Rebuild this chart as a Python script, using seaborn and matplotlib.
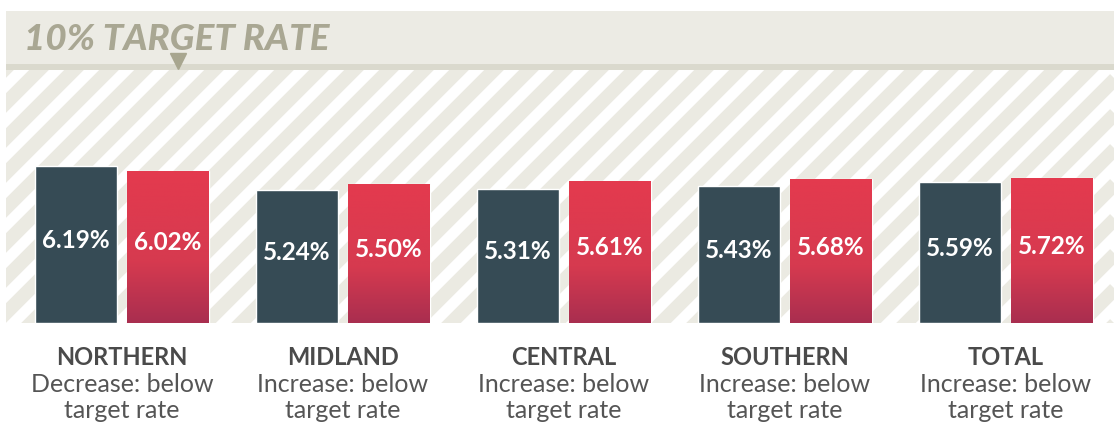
import matplotlib
matplotlib.use("Agg")
import matplotlib.pyplot as plt
import matplotlib.transforms as mtransforms
from matplotlib.colors import LinearSegmentedColormap
from matplotlib.patches import Rectangle
import numpy as np
import pandas as pd
import seaborn as sns

# Chart data
regions = ["NORTHERN", "MIDLAND", "CENTRAL", "SOUTHERN", "TOTAL"]
note_line1 = ["Decrease: below", "Increase: below", "Increase: below",
              "Increase: below", "Increase: below"]
note_line2 = ["target rate"] * 5
prior_rate = [6.19, 5.24, 5.31, 5.43, 5.59]
current_rate = [6.02, 5.50, 5.61, 5.68, 5.72]
target_rate = 10
target_label = "10% TARGET RATE"

df = pd.DataFrame({
    "region": regions * 2,
    "period": ["prior"] * len(regions) + ["current"] * len(regions),
    "rate": prior_rate + current_rate,
})

sns.set_theme(style="white")
plt.rcParams["font.family"] = ["Lato", "DejaVu Sans"]

W, H = 1114, 427
fig = plt.figure(figsize=(W / 100, H / 100), dpi=100)
ax_left, ax_bottom, ax_w, ax_h = 6, 103, 1108, 312
ax = fig.add_axes([ax_left / W, ax_bottom / H, ax_w / W, ax_h / H])

px_per_pct = 25.3
xlim = (-0.525, 4.489)
ylim = (0, ax_h / px_per_pct)

# background: striped zone up to target, line and banner above
stripe_grey = "#EBEAE2"
ax.axhspan(target_rate, target_rate + 0.24, color="#DAD9CD", zorder=0.5, lw=0)
ax.axhspan(target_rate + 0.24, ylim[1], color="#ECEBE4", zorder=0.5, lw=0)
clip_rect = Rectangle((xlim[0], 0), xlim[1] - xlim[0], target_rate,
                      transform=ax.transData, facecolor="none", edgecolor="none")
ax.add_patch(clip_rect)
pix = mtransforms.Affine2D().translate(ax_left, ax_bottom)
hatch_h = target_rate * px_per_pct
for c in range(-300, ax_w + 40, 35):
    ln, = ax.plot([c, c + hatch_h + 20], [-10, hatch_h + 10], color=stripe_grey,
                  lw=10, transform=pix, zorder=0.6, solid_capstyle="butt")
    ln.set_clip_path(clip_rect)

sns.barplot(data=df, x="region", y="rate", hue="period", order=regions,
            hue_order=["prior", "current"], palette=["#364B55", "#E23A4E"],
            width=0.832, gap=0.108, saturation=1, legend=False, ax=ax, zorder=2)

# gradient on the red bars
cmap = LinearSegmentedColormap.from_list(
    "redgrad", [(0, "#A92E4F"), (0.4, "#D63A50"), (1, "#E43A4E")])
grad = np.linspace(0, 1, 256).reshape(-1, 1)
for patch in ax.containers[1]:
    x0, w, h = patch.get_x(), patch.get_width(), patch.get_height()
    im = ax.imshow(grad, cmap=cmap, extent=[x0, x0 + w, 0, h], origin="lower",
                   aspect="auto", zorder=2.1)
    im.set_clip_path(patch)

# value labels
for cont in ax.containers:
    for patch in cont:
        v = patch.get_height()
        ax.text(patch.get_x() + patch.get_width() / 2, v / 2 + 0.2, f"{v:.2f}%",
                color="white", fontsize=17.5, fontweight="bold",
                ha="center", va="center", zorder=3)

ax.set_xlim(*xlim)
ax.set_ylim(*ylim)
ax.set_axis_off()

# target marker and banner text
ax.plot([0.253], [target_rate + 0.34], marker="v", markersize=11.5,
        color="#A8A68F", lw=0, zorder=3, clip_on=False)
fig.text(24 / W, 1 - 50 / H, target_label, fontsize=26.5, fontweight="black",
         fontstyle="italic", color="#A9A793", ha="left", va="baseline")

# category labels below
bt = mtransforms.blended_transform_factory(ax.transData, fig.transFigure)
for i, name in enumerate(regions):
    ax.text(i, 1 - 365 / H, name, transform=bt, ha="center", va="baseline",
            fontsize=17, fontweight="bold", color="#4A4A4A", clip_on=False)
    ax.text(i, 1 - 392 / H, note_line1[i], transform=bt, ha="center",
            va="baseline", fontsize=18, color="#555555", clip_on=False)
    ax.text(i, 1 - 418 / H, note_line2[i], transform=bt, ha="center",
            va="baseline", fontsize=18, color="#555555", clip_on=False)

fig.savefig("out.png", dpi=100, facecolor="white")
